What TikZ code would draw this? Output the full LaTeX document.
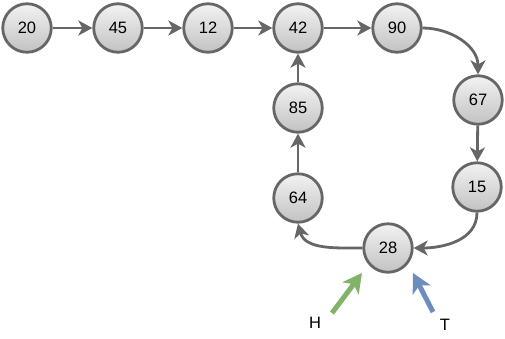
\documentclass[tikz,border=0pt]{standalone}
\usepackage{fontspec}
\setmainfont{Liberation Sans}
\usetikzlibrary{arrows.meta}
\definecolor{linegray}{HTML}{666666}
\definecolor{topg}{HTML}{F2F2F2}
\definecolor{botg}{HTML}{C2C2C2}
\definecolor{hgreen}{HTML}{82B366}
\definecolor{tblue}{HTML}{6C8EBF}
\begin{document}
\begin{tikzpicture}[x=1pt,y=-1pt,
  nd/.style={circle, draw=linegray, line width=2.8pt, minimum size=48.5pt, inner sep=0pt,
    top color=topg, bottom color=botg, font=\fontsize{16.5}{18}\selectfont},
  ln/.style={draw=linegray, line width=2.8pt, -{Stealth[length=14pt,width=15pt,inset=4pt]}},
  ptr/.style={line width=5pt, -{Stealth[length=19pt,width=20pt,inset=5pt]}},
  lbl/.style={font=\fontsize{16.5}{18}\selectfont, inner sep=0pt}
]
\useasboundingbox (0,0) rectangle (505,338);
\node[nd] (n20) at (27,28) {20};
\node[nd] (n45) at (118,28) {45};
\node[nd] (n12) at (208,28) {12};
\node[nd] (n42) at (298,28) {42};
\node[nd] (n90) at (397,28) {90};
\node[nd] (n67) at (478,100) {67};
\node[nd] (n15) at (477,187) {15};
\node[nd] (n28) at (388,248) {28};
\node[nd] (n64) at (298,198) {64};
\node[nd] (n85) at (298,108) {85};

\draw[ln] (n20) -- (n45);
\draw[ln] (n45) -- (n12);
\draw[ln] (n12) -- (n42);
\draw[ln] (n42) -- (n90);
\draw[ln] (n90.east) to[out=0,in=90] (n67.north);
\draw[ln] (n67) -- (n15);
\draw[ln] (n15.south) to[out=-90,in=0] (n28.east);
\draw[ln] (n28.west) to[out=180,in=-75] (n64.south);
\draw[ln] (n64) -- (n85);
\draw[ln] (n85) -- (n42);

\node[lbl] (h) at (315,323) {H};
\node[lbl] (t) at (445,325) {T};
\coordinate (htail) at (332,313);
\coordinate (htip) at (362,273);
\coordinate (ttail) at (433,312);
\coordinate (ttip) at (413,273);
\draw[ptr, draw=hgreen, fill=hgreen] (htail) -- (htip);
\draw[ptr, draw=tblue, fill=tblue] (ttail) -- (ttip);
\end{tikzpicture}
\end{document}
